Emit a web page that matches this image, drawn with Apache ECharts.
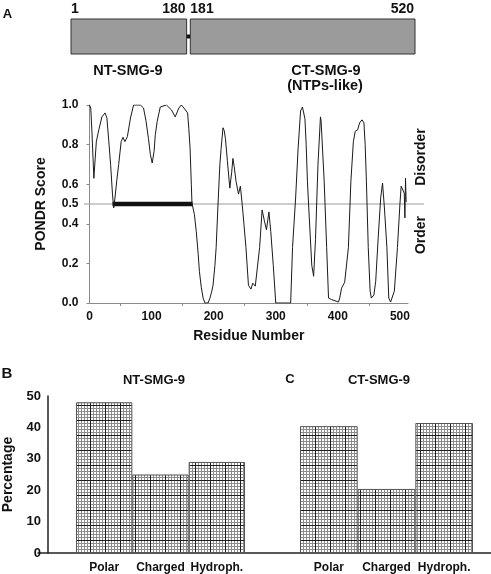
<!DOCTYPE html>
<html>
<head>
<meta charset="utf-8">
<script src="https://cdn.jsdelivr.net/npm/echarts@6/dist/echarts.min.js"></script>
<style>
html,body{margin:0;padding:0;background:#fff;}
#chart{width:491px;height:574px;}
</style>
</head>
<body>
<div id="chart"></div>
<script>
// ---- Data ----
const domainStarts = [1, 181];
const domainEnds = [180, 520];
const domainNames = ['NT-SMG-9', 'CT-SMG-9'];

const residues = [0,2,4,7,11,15,20,25,28,31,34,37,39,41,44,47,51,54,57,61,66,71,82,87,91,95,98,101,104,106,109,114,124,132,138,144,148,152,158,160,162,164,165,169,172,175,177,180,183,186,191,194,197,199,202,204,207,210,212,215,217,219,222,226,229,231,233,236,240,243,246,249,252,256,260,263,267,270,274,278,282,285,289,292,296,300,324,327,332,336,340,343,347,349,351,354,358,361,364,368,372,373,378,382,385,390,401,403,406,411,414,417,421,425,428,432,435,439,442,444,446,449,452,454,458,461,465,469,472,475,479,482,485,488,491,496,500,502,505,507,508,509,510];
const pondrScores = [1.0,0.985,0.86,0.63,0.815,0.875,0.94,0.96,0.935,0.82,0.70,0.55,0.48,0.53,0.62,0.70,0.815,0.837,0.815,0.84,0.934,1.0,1.0,0.985,0.92,0.83,0.75,0.707,0.766,0.85,0.917,0.99,1.0,0.975,0.94,0.985,1.0,0.985,0.96,0.88,0.78,0.60,0.505,0.446,0.36,0.25,0.16,0.08,0.025,0.0,0.0,0.025,0.06,0.09,0.19,0.28,0.50,0.70,0.78,0.885,0.87,0.83,0.72,0.58,0.66,0.73,0.69,0.615,0.55,0.59,0.497,0.39,0.28,0.09,0.07,0.10,0.085,0.09,0.28,0.47,0.41,0.37,0.46,0.36,0.19,0.0,0.0,0.28,0.53,0.78,0.97,0.99,0.93,0.80,0.615,0.43,0.19,0.135,0.32,0.70,0.94,0.92,0.615,0.28,0.025,0.017,0.005,0.025,0.075,0.105,0.11,0.28,0.615,0.815,0.867,0.875,0.91,0.925,0.91,0.80,0.615,0.28,0.06,0.025,0.04,0.11,0.33,0.53,0.606,0.48,0.28,0.025,0.005,0.005,0.06,0.28,0.50,0.59,0.60,0.555,0.43,0.63,0.51];
const threshold = 0.5;
const orderedSegment = [37, 166];
const yTickLabels = ['0.0','0.2','0.4','0.5','0.6','0.8','1.0'];

const compCategories = ['Polar', 'Charged', 'Hydroph.'];
const ntComposition = [48, 25, 29];
const ctComposition = [40.4, 20.4, 41.4];

// ---- Styles ----
const FONT = '"Liberation Sans", Arial, Helvetica, sans-serif';

function makePattern() {
  const c = document.createElement('canvas');
  c.width = 15; c.height = 15;
  const ctx = c.getContext('2d');
  ctx.fillStyle = '#ffffff'; ctx.fillRect(0, 0, 15, 15);
  ctx.fillStyle = '#8c8c8c';
  for (let i = 0; i < 15; i += 3) { ctx.fillRect(i, 0, 1, 15); ctx.fillRect(0, i, 15, 1); }
  ctx.fillStyle = '#1e1e1e';
  ctx.fillRect(0, 0, 1, 15); ctx.fillRect(0, 0, 15, 1);
  return c;
}
const pattern = { image: makePattern(), repeat: 'repeat' };

const chart = echarts.init(document.getElementById('chart'), null, { renderer: 'canvas' });

const curveData = residues.map((r, i) => [r, pondrScores[i]]);
const domainData = domainStarts.map((s, i) => [s, domainEnds[i]]);

const catLabel = { color: '#111', fontWeight: 'bold', fontSize: 12, margin: 9, fontFamily: FONT, interval: 0 };

const option = {
  backgroundColor: '#ffffff',
  animation: false,
  textStyle: { fontFamily: FONT },
  grid: [
    { left: 71, right: 76, top: 19, height: 35 },                 // 0 domain map
    { left: 89.5, right: 83, top: 105, bottom: 271 },              // 1 PONDR
    { left: 84, right: 67, top: 105, bottom: 271 },                // 2 threshold line
    { left: 71, right: 246, top: 396, bottom: 21 },                // 3 bars B
    { left: 300, right: 18, top: 396, bottom: 21 },                // 4 bars C
    { left: 38, right: 0, top: 396, bottom: 21 }                   // 5 baseline
  ],
  xAxis: [
    { gridIndex: 0, type: 'value', min: 1, max: 520, show: false },
    { gridIndex: 1, type: 'value', min: 0, max: 513, interval: 100,
      axisLine: { show: true, lineStyle: { color: '#8a8a8a', width: 1 } },
      axisTick: { show: false },
      minorTick: { show: true, splitNumber: 2, length: 3, lineStyle: { color: '#8a8a8a' } },
      splitLine: { show: false }, minorSplitLine: { show: false },
      axisLabel: { color: '#111', fontWeight: 'bold', fontSize: 12, margin: 8, fontFamily: FONT,
        formatter: v => (v % 100 === 0 ? String(v) : '') },
      name: 'Residue Number', nameLocation: 'middle', nameGap: 26,
      nameTextStyle: { color: '#111', fontWeight: 'bold', fontSize: 14, fontFamily: FONT } },
    { gridIndex: 2, type: 'value', min: 0, max: 1, show: false },
    { gridIndex: 3, type: 'category', data: compCategories,
      axisLine: { show: false }, axisTick: { show: false }, axisLabel: catLabel },
    { gridIndex: 4, type: 'category', data: compCategories,
      axisLine: { show: false }, axisTick: { show: false }, axisLabel: catLabel },
    { gridIndex: 5, type: 'value', min: 0, max: 1,
      axisLine: { show: true, lineStyle: { color: '#222', width: 1.5 } },
      axisTick: { show: false }, axisLabel: { show: false }, splitLine: { show: false } }
  ],
  yAxis: [
    { gridIndex: 0, type: 'value', min: 0, max: 1, show: false },
    { gridIndex: 1, type: 'value', position: 'left', min: 0, max: 1, interval: 0.1,
      axisLine: { show: true, lineStyle: { color: '#8a8a8a', width: 1 } },
      axisTick: { show: false }, splitLine: { show: false },
      axisLabel: { color: '#111', fontWeight: 'bold', fontSize: 12, margin: 11, fontFamily: FONT,
        formatter: v => { const s = v.toFixed(1); return yTickLabels.indexOf(s) >= 0 ? s : ''; } },
      name: 'PONDR Score', nameLocation: 'middle', nameGap: 41, nameRotate: 90,
      nameTextStyle: { color: '#111', fontWeight: 'bold', fontSize: 14, fontFamily: FONT } },
    { gridIndex: 1, type: 'value', position: 'left', min: 0, max: 1, interval: 0.2,
      axisLine: { show: false }, axisLabel: { show: false }, splitLine: { show: false },
      axisTick: { show: true, length: 3, lineStyle: { color: '#8a8a8a' } } },
    { gridIndex: 2, type: 'value', min: 0, max: 1, show: false },
    { gridIndex: 3, type: 'value', min: 0, max: 50, interval: 10, offset: 28,
      axisLine: { show: true, lineStyle: { color: '#222', width: 1.5 } },
      axisTick: { show: false }, splitLine: { show: false },
      axisLabel: { color: '#111', fontWeight: 'bold', fontSize: 13, margin: 7, fontFamily: FONT },
      name: 'Percentage', nameLocation: 'middle', nameGap: 33, nameRotate: 90,
      nameTextStyle: { color: '#111', fontWeight: 'bold', fontSize: 14, fontFamily: FONT } },
    { gridIndex: 4, type: 'value', min: 0, max: 50, show: false },
    { gridIndex: 5, type: 'value', min: 0, max: 1, show: false }
  ],
  series: [
    { type: 'custom', xAxisIndex: 0, yAxisIndex: 0, data: domainData,
      renderItem: function (params, api) {
        const i = params.dataIndex;
        const s = api.value(0), e = api.value(1);
        const pTop = api.coord([s, 1]);
        const pBot = api.coord([s, 0]);
        let x0 = pTop[0];
        let x1 = api.coord([e, 0])[0];
        if (i === 0) x1 -= 3;
        const top = pTop[1], h = pBot[1] - pTop[1];
        const children = [
          { type: 'rect', shape: { x: x0, y: top, width: x1 - x0, height: h },
            style: { fill: '#9b9b9b', stroke: '#333', lineWidth: 1 } },
          { type: 'text', style: { text: String(s), x: x0, y: top - 3, textAlign: 'left', textVerticalAlign: 'bottom',
            font: 'bold 14px ' + FONT, fill: '#111' } },
          { type: 'text', style: { text: String(e), x: x1 - 1, y: top - 3, textAlign: 'right', textVerticalAlign: 'bottom',
            font: 'bold 14px ' + FONT, fill: '#111' } }
        ];
        if (i === 0) {
          const nx = api.coord([domainStarts[1], 0])[0];
          children.push({ type: 'rect', shape: { x: x1, y: top + h / 2 - 2, width: nx - x1, height: 4 },
            style: { fill: '#111' } });
        }
        return { type: 'group', children: children };
      }
    },
    { type: 'line', xAxisIndex: 2, yAxisIndex: 3, data: [[0, threshold], [1, threshold]],
      symbol: 'none', lineStyle: { color: '#9a9a9a', width: 1 }, z: 1, silent: true },
    { type: 'line', xAxisIndex: 1, yAxisIndex: 1, data: orderedSegment.map(r => [r, threshold]),
      symbol: 'none', lineStyle: { color: '#111', width: 4.5, cap: 'butt' }, z: 3 },
    { type: 'line', xAxisIndex: 1, yAxisIndex: 1, data: curveData,
      symbol: 'none', smooth: false, lineStyle: { color: '#1a1a1a', width: 1 }, z: 4 },
    { type: 'bar', xAxisIndex: 3, yAxisIndex: 4, data: ntComposition,
      barWidth: '100%', barCategoryGap: 0,
      itemStyle: { color: pattern, borderColor: '#555', borderWidth: 1 } },
    { type: 'bar', xAxisIndex: 4, yAxisIndex: 5, data: ctComposition,
      barWidth: '100%', barCategoryGap: 0,
      itemStyle: { color: pattern, borderColor: '#555', borderWidth: 1 } }
  ],
  graphic: [
    { type: 'text', x: 7.5, y: 14, style: { text: 'A', font: 'bold 13px ' + FONT, fill: '#111', textAlign: 'center', textVerticalAlign: 'middle' } },
    { type: 'text', x: 128, y: 71, style: { text: domainNames[0], font: 'bold 14.5px ' + FONT, fill: '#111', textAlign: 'center', textVerticalAlign: 'middle' } },
    { type: 'text', x: 326, y: 71, style: { text: domainNames[1], font: 'bold 14.5px ' + FONT, fill: '#111', textAlign: 'center', textVerticalAlign: 'middle' } },
    { type: 'text', x: 325, y: 86, style: { text: '(NTPs-like)', font: 'bold 14.5px ' + FONT, fill: '#111', textAlign: 'center', textVerticalAlign: 'middle' } },
    { type: 'text', x: 421, y: 157, rotation: Math.PI / 2, style: { text: 'Disorder', font: 'bold 14px ' + FONT, fill: '#111', textAlign: 'center', textVerticalAlign: 'middle' } },
    { type: 'text', x: 421, y: 235, rotation: Math.PI / 2, style: { text: 'Order', font: 'bold 14px ' + FONT, fill: '#111', textAlign: 'center', textVerticalAlign: 'middle' } },
    { type: 'text', x: 7, y: 374, style: { text: 'B', font: 'bold 15px ' + FONT, fill: '#111', textAlign: 'center', textVerticalAlign: 'middle' } },
    { type: 'text', x: 154, y: 380, style: { text: domainNames[0], font: 'bold 13px ' + FONT, fill: '#111', textAlign: 'center', textVerticalAlign: 'middle' } },
    { type: 'text', x: 290, y: 379, style: { text: 'C', font: 'bold 13px ' + FONT, fill: '#111', textAlign: 'center', textVerticalAlign: 'middle' } },
    { type: 'text', x: 379, y: 380, style: { text: domainNames[1], font: 'bold 13px ' + FONT, fill: '#111', textAlign: 'center', textVerticalAlign: 'middle' } }
  ]
};
chart.setOption(option);
</script>
</body>
</html>
